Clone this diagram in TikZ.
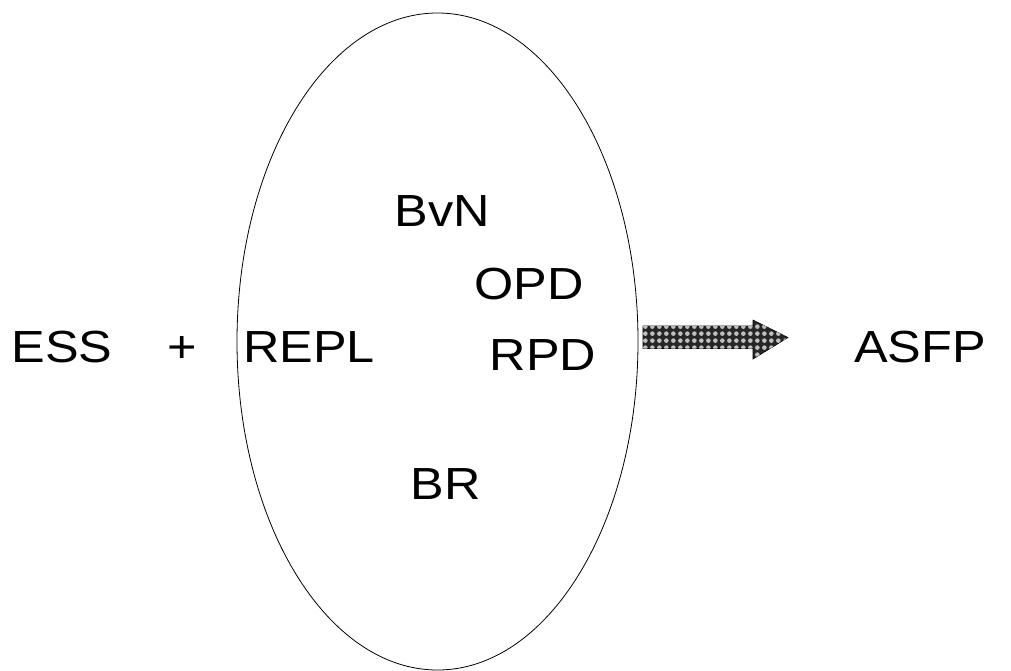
\documentclass[tikz,border=0pt]{standalone}
\usepackage{fontspec}
\setmainfont{Liberation Sans}
\usetikzlibrary{patterns}
\pgfdeclarepatternformonly{ballgrid}{\pgfqpoint{0pt}{0pt}}{\pgfqpoint{7.3pt}{7.3pt}}{\pgfqpoint{7.3pt}{7.3pt}}{%
  \pgfpathcircle{\pgfqpoint{3.65pt}{3.65pt}}{2.5pt}
  \pgfusepath{fill}}
\begin{document}
\begin{tikzpicture}[x=1pt,y=-1pt,
  lbl/.style={inner sep=0pt,font=\fontsize{45}{45}\selectfont,xscale=1.12,anchor=center},
  blob/.style={draw=black,line width=0.8pt},
  blockarrow/.style={fill=black!85,draw=black,line width=0.6pt}]
\useasboundingbox (0,0) rectangle (1011,671);
\draw[blob] (437.5,341.5) ellipse [x radius=200.5, y radius=328.5];
\node[lbl] (ess) at (62,347) {ESS};
\node[lbl] (plus) at (182,350) {+};
\node[lbl] (repl) at (309,347) {REPL};
\node[lbl] (bvn) at (442,211) {BvN};
\node[lbl] (opd) at (529,284) {OPD};
\node[lbl] (rpd) at (543,355) {RPD};
\node[lbl] (br) at (446,484) {BR};
\node[lbl] (asfp) at (920,347) {ASFP};
\path[blockarrow]
  (643,326) -- (753,326) -- (753,320) -- (788,337.5) -- (753,359) -- (753,348.5) -- (643,348.5) -- cycle;
\path[pattern=ballgrid,pattern color=black!25]
  (643,326) -- (753,326) -- (753,320) -- (788,337.5) -- (753,359) -- (753,348.5) -- (643,348.5) -- cycle;
\end{tikzpicture}
\end{document}
